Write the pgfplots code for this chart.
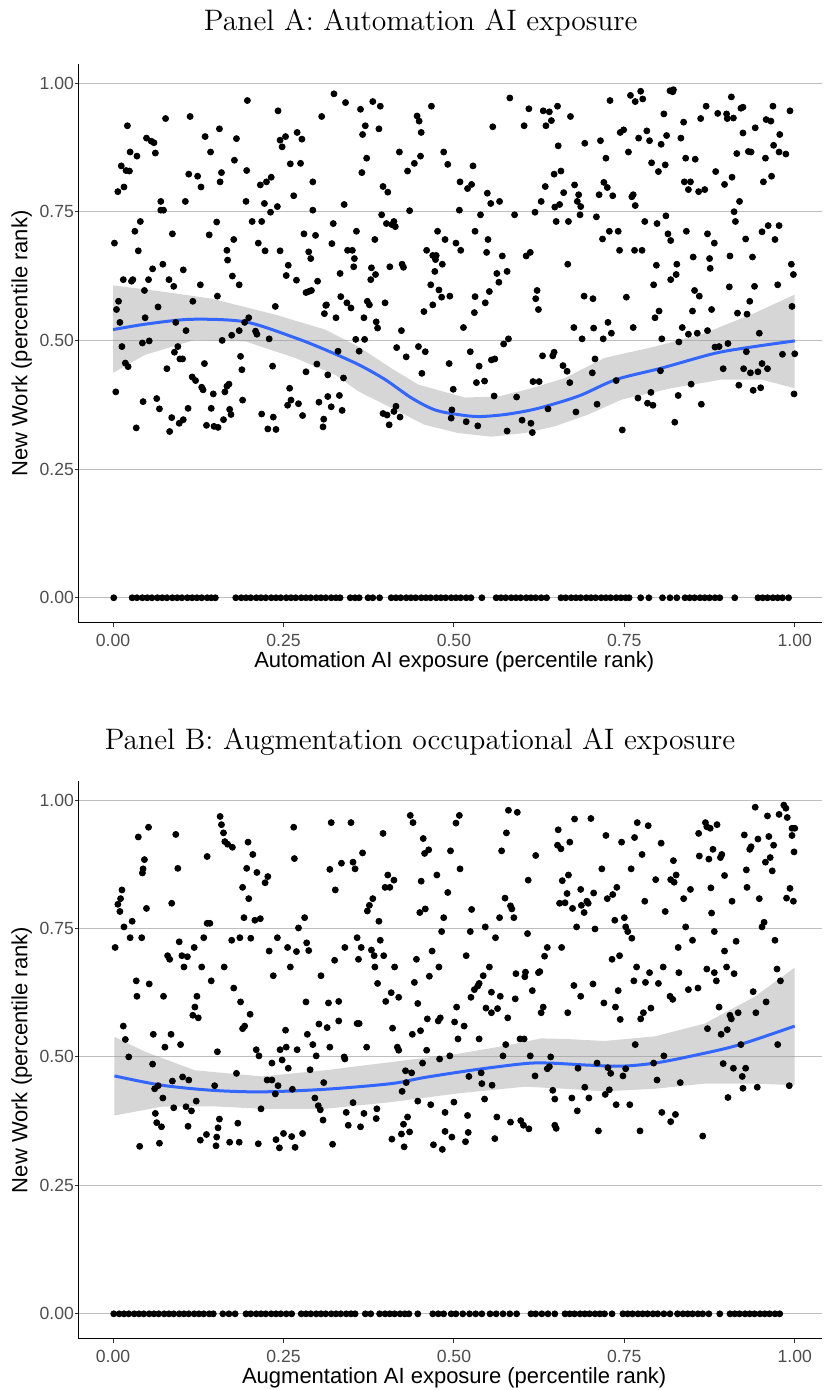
\documentclass[border=0pt]{standalone}
\usepackage{fontspec}
\setsansfont{Liberation Sans}
\usepackage{pgfplots}
\pgfplotsset{compat=1.18}
\definecolor{loess}{HTML}{3366FF}
\definecolor{tickgray}{HTML}{4D4D4D}
\definecolor{gridgray}{HTML}{BEBEBE}

\pgfplotsset{
  panel/.style={
    scale only axis,
    width=371.5pt,
    xmin=-0.05, xmax=1.04,
    ymin=-0.049, ymax=1.037,
    axis lines=left,
    axis line style={-, black, line width=0.5pt},
    tick align=outside,
    major tick length=2pt,
    tick style={color=black!80, line width=0.5pt},
    xtick={0,0.25,0.5,0.75,1},
    xticklabels={0.00,0.25,0.50,0.75,1.00},
    ytick={0,0.25,0.5,0.75,1},
    yticklabels={0.00,0.25,0.50,0.75,1.00},
    ymajorgrids=true,
    major grid style={gridgray, line width=0.5pt},
    ticklabel style={font=\sffamily\fontsize{8.8}{10}\selectfont, text=tickgray},
    yticklabel style={xshift=3pt},
    /pgf/number format/assume math mode=true,
    label style={font=\sffamily\fontsize{11}{13}\selectfont},
    xlabel style={at={(axis description cs:0.505,-0.07)}, anchor=center},
    ylabel style={at={(axis description cs:-0.077,0.5)}, anchor=center},
    title style={font=\fontsize{14.8}{17}\selectfont, anchor=center, yshift=-7pt},
    ylabel={New Work (percentile rank)},
  },
  pts/.style={only marks, mark=*, mark size=1.5pt, black},
  band/.style={draw=none, fill=black!40, fill opacity=0.4},
  fit/.style={loess, line width=1.5pt, smooth, no marks},
}

\begin{document}
\begin{tikzpicture}
\useasboundingbox (0,0) rectangle (412.5pt,695pt);

% ---------------- Panel A ----------------
\begin{axis}[panel, at={(39.5pt,383.5pt)}, anchor=south west, height=279.5pt,
  title={Panel A: Automation AI exposure},
  title style={at={(axis description cs:0.46,1.077)}},
  xlabel={Automation AI exposure (percentile rank)}]

% occupations with new work
\addplot[pts] coordinates {
(0.197,0.966) (0.242,0.946) (0.077,0.931) (0.113,0.935) (0.021,0.917) (0.306,0.935)
(0.156,0.911) (0.135,0.896) (0.049,0.893) (0.056,0.887) (0.060,0.884) (0.181,0.892) (0.245,0.889) (0.253,0.896) (0.270,0.904) (0.277,0.891) (0.248,0.876)
(0.143,0.866) (0.025,0.866) (0.035,0.858) (0.062,0.864) (0.178,0.850) (0.260,0.843) (0.275,0.844)
(0.012,0.839) (0.019,0.830) (0.024,0.829) (0.196,0.830) (0.159,0.826) (0.111,0.823) (0.124,0.819) (0.129,0.798) (0.157,0.808) (0.216,0.802) (0.225,0.808) (0.232,0.817) (0.293,0.808)
(0.016,0.798) (0.007,0.789) (0.265,0.781)
(0.070,0.770) (0.070,0.753) (0.074,0.753) (0.106,0.770) (0.195,0.770) (0.222,0.766) (0.241,0.760) (0.231,0.749) (0.293,0.753)
(0.040,0.731) (0.032,0.712) (0.152,0.730) (0.204,0.731) (0.218,0.731)
(0.002,0.689) (0.087,0.707) (0.141,0.705) (0.177,0.696) (0.213,0.689) (0.223,0.674) (0.245,0.674) (0.280,0.707) (0.297,0.704)
(0.037,0.674) (0.167,0.675) (0.168,0.656) (0.287,0.672) (0.290,0.659)
(0.058,0.639) (0.073,0.648) (0.103,0.637) (0.257,0.646) (0.254,0.626)
(0.015,0.618) (0.027,0.615) (0.029,0.618) (0.052,0.618) (0.082,0.618) (0.089,0.605) (0.128,0.608) (0.175,0.625) (0.185,0.608) (0.269,0.617) (0.300,0.615) (0.283,0.593) (0.287,0.595) (0.291,0.597)
(0.046,0.597) (0.008,0.576) (0.005,0.560) (0.066,0.565) (0.117,0.576) (0.153,0.586) (0.238,0.566) (0.312,0.568) (0.310,0.552)
(0.010,0.535) (0.047,0.544) (0.092,0.535) (0.107,0.519) (0.199,0.544) (0.193,0.535) (0.185,0.519) (0.209,0.518) (0.211,0.512) (0.174,0.510)
(0.013,0.488) (0.043,0.495) (0.053,0.499) (0.160,0.500) (0.229,0.503)
(0.095,0.488) (0.090,0.477) (0.098,0.464) (0.102,0.464) (0.187,0.469) (0.018,0.456) (0.022,0.449) (0.079,0.445) (0.134,0.455) (0.189,0.443) (0.234,0.450) (0.283,0.439) (0.299,0.454)
(0.004,0.400) (0.116,0.429) (0.121,0.422) (0.130,0.409) (0.132,0.404) (0.147,0.396) (0.164,0.400) (0.167,0.411) (0.170,0.415) (0.259,0.407)
(0.044,0.381) (0.064,0.387) (0.068,0.367) (0.110,0.368) (0.144,0.368) (0.190,0.384) (0.171,0.366) (0.173,0.356) (0.162,0.346) (0.256,0.374) (0.261,0.384) (0.272,0.377) (0.302,0.380)
(0.034,0.330) (0.086,0.350) (0.083,0.323) (0.097,0.339) (0.103,0.346) (0.137,0.335) (0.148,0.333) (0.154,0.331) (0.218,0.357) (0.235,0.351) (0.227,0.328) (0.239,0.327) (0.278,0.354) (0.309,0.347) (0.308,0.332)
(0.324,0.979) (0.341,0.962) (0.363,0.949) (0.381,0.964) (0.392,0.955) (0.370,0.917) (0.366,0.900) (0.390,0.911) (0.446,0.936) (0.449,0.926) (0.452,0.904) (0.467,0.955) (0.582,0.971) (0.610,0.950) (0.631,0.946) (0.640,0.944) (0.652,0.955) (0.603,0.917) (0.557,0.915) (0.635,0.917) (0.643,0.927) (0.653,0.878)
(0.420,0.866) (0.372,0.854) (0.365,0.826) (0.451,0.858) (0.442,0.844) (0.432,0.829) (0.485,0.866) (0.491,0.842) (0.528,0.839) (0.509,0.808) (0.520,0.795) (0.526,0.803) (0.549,0.786) (0.554,0.766) (0.567,0.770) (0.396,0.799) (0.403,0.788) (0.634,0.799) (0.647,0.823) (0.657,0.829) (0.661,0.787) (0.628,0.770) (0.648,0.759) (0.655,0.764)
(0.339,0.764) (0.435,0.752) (0.508,0.753) (0.539,0.744) (0.589,0.744) (0.619,0.749) (0.394,0.744) (0.401,0.727) (0.412,0.731) (0.414,0.721) (0.409,0.725) (0.323,0.727) (0.357,0.712) (0.384,0.696) (0.321,0.688) (0.344,0.675) (0.351,0.675) (0.354,0.659) (0.353,0.643) (0.333,0.630) (0.379,0.641) (0.385,0.628) (0.378,0.618) (0.406,0.643) (0.424,0.648) (0.426,0.642) (0.460,0.675) (0.469,0.665) (0.474,0.665) (0.473,0.657) (0.472,0.634) (0.483,0.648) (0.476,0.712) (0.487,0.696) (0.503,0.689) (0.510,0.675) (0.531,0.712) (0.550,0.696) (0.548,0.671) (0.571,0.664) (0.563,0.630) (0.578,0.634) (0.566,0.613) (0.606,0.664) (0.612,0.671) (0.650,0.731)
(0.334,0.585) (0.343,0.573) (0.349,0.563) (0.313,0.569) (0.327,0.544) (0.373,0.576) (0.376,0.569) (0.399,0.573) (0.368,0.544) (0.386,0.536) (0.388,0.524) (0.423,0.519) (0.456,0.556) (0.466,0.608) (0.478,0.598) (0.482,0.584) (0.494,0.586) (0.469,0.569) (0.514,0.525) (0.531,0.585) (0.530,0.554) (0.546,0.573) (0.552,0.595) (0.622,0.597) (0.620,0.581) (0.624,0.560)
(0.356,0.502) (0.369,0.502) (0.573,0.493) (0.580,0.503)
(0.330,0.479) (0.361,0.479) (0.416,0.486) (0.430,0.468) (0.448,0.488) (0.458,0.478) (0.493,0.455) (0.524,0.478) (0.537,0.450) (0.555,0.462) (0.560,0.464) (0.630,0.470) (0.645,0.470) (0.647,0.477) (0.660,0.451)
(0.315,0.433) (0.338,0.427) (0.453,0.436) (0.499,0.405) (0.533,0.418) (0.545,0.421) (0.616,0.420) (0.625,0.420)
(0.315,0.391) (0.332,0.393) (0.320,0.371) (0.336,0.364) (0.396,0.358) (0.402,0.355) (0.412,0.362) (0.415,0.372) (0.421,0.351) (0.405,0.336) (0.559,0.392) (0.592,0.390) (0.638,0.367) (0.497,0.365) (0.496,0.349) (0.518,0.342) (0.535,0.334) (0.578,0.324) (0.600,0.345) (0.613,0.339) (0.615,0.321)
(0.729,0.966) (0.759,0.976) (0.766,0.964) (0.774,0.984) (0.777,0.969) (0.817,0.985) (0.822,0.987) (0.821,0.983) (0.671,0.935) (0.808,0.940) (0.837,0.924) (0.862,0.931) (0.870,0.955) (0.887,0.941) (0.900,0.940) (0.901,0.931) (0.907,0.973) (0.910,0.932) (0.921,0.951) (0.924,0.953) (0.942,0.913) (0.958,0.929) (0.965,0.926) (0.968,0.955) (0.993,0.946)
(0.692,0.883) (0.715,0.888) (0.744,0.904) (0.749,0.909) (0.771,0.893) (0.783,0.907) (0.787,0.888) (0.804,0.881) (0.812,0.898) (0.833,0.893) (0.924,0.903) (0.978,0.900) (0.969,0.879) (0.977,0.866) (0.987,0.862) (0.915,0.863) (0.932,0.867) (0.936,0.866) (0.756,0.866) (0.723,0.854) (0.957,0.854)
(0.790,0.845) (0.800,0.828) (0.810,0.841) (0.840,0.854) (0.854,0.852) (0.884,0.828) (0.897,0.803) (0.908,0.817) (0.838,0.808) (0.847,0.808) (0.844,0.793) (0.859,0.789) (0.868,0.793) (0.954,0.808) (0.966,0.819)
(0.677,0.802) (0.683,0.783) (0.681,0.770) (0.686,0.760) (0.685,0.744) (0.720,0.807) (0.725,0.797) (0.713,0.783) (0.733,0.781) (0.761,0.779) (0.763,0.783) (0.766,0.762) (0.919,0.770) (0.911,0.750)
(0.668,0.731) (0.709,0.740) (0.718,0.697) (0.728,0.712) (0.741,0.712) (0.743,0.675) (0.765,0.675) (0.776,0.675) (0.780,0.731) (0.798,0.727) (0.811,0.742) (0.814,0.707) (0.818,0.694) (0.841,0.712) (0.872,0.707) (0.882,0.689) (0.913,0.731) (0.928,0.697) (0.952,0.711) (0.961,0.723) (0.977,0.723) (0.971,0.696)
(0.667,0.648) (0.797,0.646) (0.827,0.648) (0.826,0.628) (0.818,0.618) (0.851,0.662) (0.875,0.659) (0.876,0.640) (0.905,0.664) (0.938,0.662) (0.995,0.648) (0.998,0.628)
(0.691,0.586) (0.704,0.581) (0.753,0.584) (0.793,0.608) (0.853,0.597) (0.860,0.586) (0.904,0.604) (0.941,0.605) (0.975,0.608) (0.934,0.576)
(0.676,0.525) (0.688,0.503) (0.705,0.524) (0.719,0.503) (0.726,0.535) (0.731,0.514) (0.763,0.525) (0.795,0.544) (0.801,0.557) (0.805,0.503) (0.835,0.525) (0.844,0.512) (0.857,0.514) (0.872,0.519) (0.850,0.557) (0.878,0.560) (0.916,0.553) (0.930,0.551)
(0.830,0.497) (0.883,0.487) (0.889,0.488) (0.902,0.494) (0.948,0.514) (0.996,0.566) (0.929,0.478) (0.982,0.473) (1.000,0.474)
(0.666,0.440) (0.670,0.418) (0.703,0.437) (0.707,0.464) (0.738,0.422) (0.803,0.441) (0.848,0.415) (0.895,0.445) (0.925,0.445) (0.935,0.437) (0.946,0.439) (0.952,0.455) (0.960,0.445) (0.918,0.413)
(0.679,0.361) (0.710,0.376) (0.770,0.388) (0.789,0.399) (0.784,0.378) (0.792,0.374) (0.829,0.393) (0.863,0.376) (0.824,0.341) (0.747,0.326) (0.939,0.403) (0.950,0.408) (0.999,0.396)
};

% occupations with no new work
\addplot[pts] coordinates {
(0.001,0) (0.028,0) (0.035,0) (0.043,0) (0.050,0) (0.057,0) (0.065,0) (0.072,0) (0.079,0) (0.087,0) (0.094,0) (0.101,0) (0.109,0) (0.116,0) (0.123,0) (0.130,0) (0.138,0) (0.144,0) (0.150,0)
(0.180,0) (0.188,0) (0.195,0) (0.202,0) (0.210,0) (0.217,0) (0.224,0) (0.232,0) (0.239,0) (0.246,0) (0.254,0) (0.261,0) (0.268,0) (0.276,0) (0.283,0) (0.290,0) (0.298,0) (0.305,0) (0.312,0) (0.320,0) (0.327,0) (0.333,0)
(0.348,0) (0.355,0) (0.361,0) (0.374,0) (0.381,0) (0.391,0)
(0.408,0) (0.415,0) (0.422,0) (0.430,0) (0.437,0) (0.444,0) (0.452,0) (0.459,0) (0.466,0) (0.474,0) (0.481,0) (0.488,0) (0.496,0) (0.503,0) (0.510,0) (0.518,0) (0.525,0)
(0.541,0) (0.562,0) (0.569,0) (0.576,0) (0.584,0) (0.591,0) (0.598,0) (0.606,0) (0.613,0) (0.620,0) (0.628,0) (0.636,0)
(0.657,0) (0.664,0) (0.672,0) (0.679,0) (0.686,0) (0.694,0) (0.701,0) (0.708,0) (0.716,0) (0.723,0) (0.730,0) (0.738,0) (0.745,0) (0.752,0) (0.757,0)
(0.774,0) (0.786,0) (0.806,0) (0.817,0) (0.827,0)
(0.839,0) (0.846,0) (0.853,0) (0.861,0) (0.868,0) (0.875,0) (0.883,0) (0.890,0) (0.912,0)
(0.946,0) (0.953,0) (0.960,0) (0.968,0) (0.975,0) (0.982,0) (0.991,0)
};

% loess confidence band
\addplot[band] coordinates {
(0,0.607) (0.071,0.595) (0.145,0.581) (0.238,0.550) (0.311,0.521) (0.360,0.488) (0.408,0.446) (0.448,0.414) (0.516,0.389) (0.565,0.391) (0.614,0.407) (0.663,0.427) (0.721,0.466) (0.795,0.488) (0.868,0.514) (0.941,0.553) (1.0,0.589)
(1.0,0.407) (0.951,0.424) (0.893,0.424) (0.819,0.407) (0.746,0.385) (0.697,0.356) (0.648,0.333) (0.604,0.320) (0.555,0.313) (0.506,0.320) (0.457,0.336) (0.408,0.369) (0.360,0.401) (0.326,0.433) (0.267,0.466) (0.194,0.498) (0.120,0.501) (0.047,0.472) (0,0.437)
} -- cycle;

% loess fit
\addplot[fit] coordinates {
(0,0.521) (0.05,0.532) (0.115,0.541) (0.194,0.536) (0.267,0.505) (0.311,0.482) (0.360,0.453) (0.399,0.424) (0.438,0.388) (0.472,0.365) (0.506,0.356) (0.536,0.352) (0.575,0.356) (0.614,0.365) (0.648,0.377) (0.687,0.394) (0.738,0.424) (0.804,0.446) (0.883,0.475) (0.941,0.488) (1.0,0.499)
};
\end{axis}

% ---------------- Panel B ----------------
\begin{axis}[panel, at={(39.5pt,25.5pt)}, anchor=south west, height=279pt,
  title={Panel B: Augmentation occupational AI exposure},
  title style={at={(axis description cs:0.459,1.073)}},
  xlabel={Augmentation AI exposure (percentile rank)}]

\addplot[pts] coordinates {
(0.157,0.968) (0.159,0.952) (0.162,0.936) (0.164,0.919) (0.168,0.914) (0.175,0.908) (0.052,0.947) (0.037,0.928) (0.092,0.933) (0.198,0.918) (0.205,0.894) (0.265,0.947) (0.266,0.886)
(0.046,0.884) (0.044,0.866) (0.043,0.858) (0.095,0.867) (0.138,0.890) (0.196,0.867) (0.211,0.859) (0.227,0.851) (0.223,0.839) (0.190,0.830) (0.199,0.808)
(0.013,0.825) (0.011,0.808) (0.007,0.797) (0.010,0.783) (0.049,0.789) (0.086,0.799) (0.028,0.764) (0.016,0.753) (0.025,0.732) (0.042,0.732) (0.003,0.713) (0.138,0.760) (0.142,0.760) (0.192,0.771) (0.208,0.766) (0.216,0.769) (0.281,0.771) (0.272,0.751)
(0.097,0.724) (0.080,0.697) (0.083,0.690) (0.101,0.697) (0.109,0.695) (0.104,0.675) (0.119,0.713) (0.133,0.732) (0.130,0.675) (0.163,0.675) (0.174,0.727) (0.186,0.732) (0.202,0.731) (0.241,0.732) (0.229,0.706) (0.256,0.713) (0.269,0.705) (0.260,0.675) (0.284,0.722) (0.287,0.707) (0.235,0.658) (0.305,0.658)
(0.034,0.648) (0.053,0.642) (0.035,0.618) (0.074,0.618) (0.144,0.648) (0.123,0.618) (0.120,0.597) (0.117,0.581) (0.125,0.576) (0.177,0.634) (0.187,0.607) (0.201,0.583) (0.190,0.555) (0.193,0.560) (0.283,0.607)
(0.015,0.560) (0.018,0.534) (0.059,0.544) (0.085,0.544) (0.076,0.519) (0.099,0.524) (0.153,0.510) (0.210,0.514) (0.214,0.502) (0.253,0.552) (0.245,0.514) (0.254,0.519) (0.270,0.514) (0.285,0.544) (0.293,0.524) (0.298,0.502) (0.302,0.564)
(0.023,0.500) (0.058,0.486) (0.233,0.488) (0.248,0.494) (0.257,0.478) (0.289,0.475) (0.181,0.468) (0.102,0.461) (0.111,0.455) (0.087,0.453) (0.061,0.438) (0.066,0.444) (0.149,0.444) (0.226,0.455) (0.233,0.455) (0.242,0.444) (0.238,0.428) (0.263,0.437) (0.309,0.450) (0.073,0.420) (0.122,0.414) (0.296,0.420) (0.301,0.405)
(0.089,0.401) (0.107,0.403) (0.115,0.395) (0.062,0.390) (0.217,0.399) (0.304,0.397) (0.308,0.377)
(0.064,0.372) (0.071,0.364) (0.156,0.379) (0.154,0.362) (0.183,0.371) (0.110,0.365) (0.250,0.351) (0.262,0.345) (0.278,0.351) (0.137,0.349) (0.128,0.338) (0.152,0.344) (0.151,0.327) (0.171,0.334) (0.185,0.334) (0.213,0.331) (0.239,0.339) (0.244,0.323) (0.267,0.324) (0.068,0.332) (0.039,0.326)
(0.320,0.956) (0.349,0.956) (0.396,0.935) (0.436,0.970) (0.440,0.956) (0.455,0.925) (0.457,0.896) (0.463,0.903) (0.495,0.901) (0.508,0.970) (0.503,0.955) (0.580,0.980) (0.593,0.976) (0.577,0.936) (0.570,0.901) (0.620,0.892) (0.653,0.942) (0.652,0.912) (0.657,0.905)
(0.366,0.897) (0.335,0.877) (0.352,0.879) (0.355,0.866) (0.318,0.865) (0.403,0.854) (0.412,0.844) (0.399,0.830) (0.406,0.830) (0.452,0.842) (0.475,0.854) (0.509,0.866) (0.491,0.820) (0.326,0.825) (0.381,0.808) (0.376,0.795) (0.373,0.784) (0.390,0.764) (0.458,0.788) (0.450,0.781) (0.485,0.771) (0.526,0.787) (0.575,0.809) (0.583,0.794) (0.585,0.788) (0.588,0.771) (0.567,0.771) (0.609,0.844) (0.659,0.843) (0.655,0.799) (0.663,0.800)
(0.358,0.732) (0.364,0.713) (0.340,0.713) (0.325,0.688) (0.360,0.690) (0.379,0.708) (0.383,0.697) (0.392,0.727) (0.397,0.697) (0.384,0.675) (0.413,0.675) (0.388,0.643) (0.445,0.690) (0.468,0.706) (0.478,0.675) (0.464,0.657) (0.442,0.645) (0.482,0.744) (0.524,0.744) (0.546,0.753) (0.561,0.732) (0.518,0.697) (0.552,0.675) (0.543,0.658) (0.537,0.643) (0.535,0.638) (0.530,0.631) (0.525,0.616) (0.555,0.626) (0.568,0.618) (0.591,0.662) (0.605,0.665) (0.604,0.656) (0.626,0.666) (0.624,0.664) (0.633,0.696) (0.637,0.713) (0.608,0.740) (0.658,0.713) (0.615,0.629) (0.590,0.613)
(0.316,0.605) (0.331,0.608) (0.408,0.625) (0.419,0.616) (0.400,0.608) (0.447,0.604) (0.504,0.597) (0.547,0.595) (0.555,0.586) (0.564,0.594) (0.579,0.576) (0.631,0.597) (0.628,0.586)
(0.314,0.557) (0.331,0.570) (0.358,0.565) (0.361,0.565) (0.410,0.556) (0.439,0.544) (0.451,0.551) (0.461,0.574) (0.477,0.570) (0.480,0.576) (0.501,0.568) (0.515,0.560) (0.506,0.535) (0.537,0.535) (0.318,0.519) (0.372,0.519) (0.417,0.519) (0.419,0.513) (0.460,0.513) (0.597,0.535) (0.603,0.535) (0.576,0.524) (0.340,0.496) (0.339,0.500)
(0.429,0.473) (0.438,0.469) (0.430,0.450) (0.424,0.433) (0.454,0.488) (0.479,0.496) (0.494,0.502) (0.522,0.462) (0.540,0.469) (0.541,0.448) (0.556,0.445) (0.572,0.502) (0.612,0.502) (0.619,0.463) (0.637,0.477) (0.640,0.481) (0.642,0.500) (0.645,0.435) (0.648,0.418)
(0.352,0.411) (0.447,0.414) (0.466,0.407) (0.500,0.412) (0.545,0.418)
(0.342,0.392) (0.368,0.390) (0.387,0.399) (0.386,0.380) (0.345,0.367) (0.363,0.364) (0.432,0.383) (0.426,0.369) (0.423,0.350) (0.435,0.354) (0.409,0.340) (0.427,0.325) (0.470,0.329) (0.483,0.320) (0.487,0.355) (0.487,0.392) (0.497,0.344) (0.517,0.335) (0.520,0.386) (0.521,0.353) (0.560,0.341) (0.563,0.383) (0.583,0.373) (0.598,0.376) (0.602,0.367) (0.610,0.360) (0.648,0.367) (0.650,0.361) (0.322,0.330)
(0.677,0.963) (0.701,0.964) (0.670,0.918) (0.723,0.931) (0.746,0.918) (0.769,0.956) (0.785,0.950) (0.765,0.927) (0.776,0.894) (0.804,0.916) (0.859,0.935) (0.869,0.956) (0.871,0.948) (0.876,0.945) (0.886,0.952) (0.860,0.891) (0.874,0.885) (0.880,0.904) (0.891,0.888) (0.893,0.894) (0.926,0.932) (0.942,0.986) (0.960,0.969) (0.977,0.972) (0.984,0.990) (0.987,0.984) (0.989,0.966) (0.996,0.945) (1.000,0.945) (0.996,0.931) (0.946,0.924) (0.962,0.929) (0.969,0.912) (0.936,0.909) (0.934,0.904) (0.964,0.888) (0.957,0.879) (0.967,0.862) (0.929,0.864) (0.999,0.899)
(0.717,0.866) (0.760,0.866) (0.822,0.882) (0.668,0.854) (0.686,0.826) (0.666,0.818) (0.739,0.830) (0.733,0.816) (0.725,0.808) (0.695,0.803) (0.687,0.795) (0.697,0.799) (0.674,0.789) (0.691,0.781) (0.705,0.819) (0.780,0.803) (0.796,0.845) (0.818,0.845) (0.826,0.854) (0.823,0.840) (0.847,0.826) (0.837,0.808) (0.810,0.783) (0.877,0.829) (0.878,0.780) (0.897,0.853) (0.908,0.803) (0.930,0.830) (0.948,0.808) (0.993,0.828) (0.988,0.809) (0.998,0.803) (0.955,0.762) (0.952,0.753)
(0.680,0.753) (0.707,0.749) (0.736,0.766) (0.750,0.771) (0.752,0.753) (0.755,0.744) (0.761,0.731) (0.850,0.727) (0.829,0.713) (0.840,0.753) (0.882,0.744) (0.897,0.706) (0.914,0.725) (0.971,0.727)
(0.732,0.690) (0.743,0.697) (0.768,0.675) (0.764,0.648) (0.781,0.645) (0.787,0.664) (0.800,0.643) (0.807,0.675) (0.830,0.664) (0.817,0.618) (0.821,0.612) (0.844,0.631) (0.858,0.634) (0.871,0.671) (0.882,0.664) (0.885,0.648) (0.900,0.675) (0.911,0.662) (0.939,0.627) (0.974,0.671) (0.979,0.648)
(0.676,0.639) (0.704,0.642) (0.686,0.618) (0.741,0.629) (0.720,0.605) (0.737,0.597) (0.744,0.573) (0.774,0.574) (0.778,0.586) (0.789,0.595) (0.667,0.586) (0.889,0.597) (0.905,0.581) (0.907,0.574) (0.917,0.586) (0.943,0.586) (0.958,0.607)
(0.872,0.555) (0.892,0.544) (0.901,0.553) (0.921,0.524) (0.975,0.524) (0.766,0.524) (0.808,0.502) (0.793,0.488) (0.710,0.488) (0.682,0.478) (0.726,0.479) (0.730,0.468) (0.752,0.477) (0.748,0.463) (0.798,0.455) (0.832,0.450) (0.895,0.487) (0.910,0.478) (0.928,0.478) (0.923,0.462) (0.692,0.441) (0.728,0.436) (0.924,0.439) (0.945,0.441) (0.992,0.444)
(0.673,0.420) (0.698,0.420) (0.722,0.427) (0.738,0.407) (0.758,0.407) (0.681,0.395) (0.805,0.392) (0.825,0.388) (0.818,0.374) (0.902,0.421) (0.712,0.356) (0.773,0.356) (0.865,0.346)
};

\addplot[pts] coordinates {
(0.001,0) (0.009,0) (0.016,0) (0.023,0) (0.031,0) (0.038,0) (0.045,0) (0.053,0) (0.060,0) (0.067,0) (0.075,0) (0.082,0) (0.089,0) (0.097,0) (0.104,0) (0.111,0) (0.119,0) (0.126,0) (0.133,0) (0.141,0) (0.147,0)
(0.161,0) (0.170,0) (0.179,0)
(0.195,0) (0.202,0) (0.210,0) (0.217,0) (0.224,0) (0.232,0) (0.239,0) (0.246,0) (0.254,0) (0.262,0)
(0.276,0) (0.283,0) (0.290,0) (0.298,0) (0.305,0) (0.312,0) (0.320,0) (0.327,0) (0.334,0) (0.342,0) (0.349,0) (0.355,0)
(0.370,0) (0.378,0) (0.391,0) (0.399,0) (0.406,0) (0.413,0) (0.421,0) (0.428,0) (0.434,0) (0.447,0)
(0.469,0) (0.477,0) (0.485,0) (0.496,0) (0.503,0) (0.513,0) (0.523,0) (0.532,0) (0.541,0) (0.553,0) (0.562,0) (0.572,0) (0.582,0) (0.592,0)
(0.613,0) (0.620,0) (0.629,0) (0.638,0) (0.648,0)
(0.663,0) (0.670,0) (0.677,0) (0.685,0) (0.692,0) (0.699,0) (0.707,0) (0.714,0) (0.721,0) (0.732,0)
(0.748,0) (0.755,0) (0.762,0) (0.770,0) (0.777,0) (0.784,0) (0.792,0) (0.799,0) (0.808,0) (0.817,0)
(0.828,0) (0.836,0) (0.843,0) (0.850,0) (0.858,0) (0.865,0) (0.874,0) (0.890,0)
(0.905,0) (0.912,0) (0.919,0) (0.927,0) (0.934,0) (0.941,0) (0.949,0) (0.956,0) (0.963,0) (0.971,0) (0.978,0)
};

\addplot[band] coordinates {
(0.002,0.539) (0.047,0.510) (0.120,0.474) (0.218,0.462) (0.311,0.474) (0.408,0.490) (0.506,0.506) (0.580,0.523) (0.628,0.536) (0.663,0.535) (0.721,0.531) (0.795,0.540) (0.868,0.565) (0.941,0.617) (1.0,0.674)
(1.0,0.445) (0.941,0.448) (0.868,0.448) (0.795,0.438) (0.721,0.433) (0.663,0.438) (0.604,0.442) (0.506,0.429) (0.408,0.412) (0.311,0.399) (0.218,0.399) (0.145,0.404) (0.071,0.403) (0.002,0.386)
} -- cycle;

\addplot[fit] coordinates {
(0.002,0.463) (0.071,0.445) (0.145,0.435) (0.218,0.432) (0.311,0.437) (0.408,0.448) (0.457,0.460) (0.531,0.475) (0.604,0.487) (0.640,0.488) (0.697,0.484) (0.746,0.482) (0.795,0.488) (0.853,0.503) (0.917,0.523) (1.0,0.560)
};
\end{axis}
\end{tikzpicture}
\end{document}
